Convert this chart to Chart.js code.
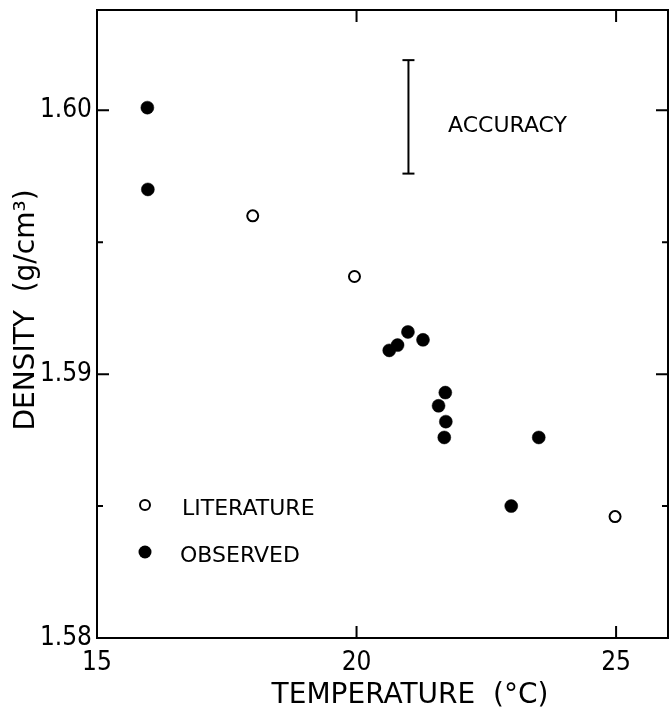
<!DOCTYPE html>
<html>
<head>
<meta charset="utf-8">
<script src="https://cdn.jsdelivr.net/npm/chart.js@4.4.1/dist/chart.umd.min.js"></script>
<style>
  body { margin: 0; background: #fff; }
  canvas { display: block; }
</style>
</head>
<body>
<canvas id="densityChart" width="672" height="715"></canvas>
<script>
// Axis ticks
const temperatureTicks = [15, 20, 25];
const densityTicks = [1.58, 1.585, 1.59, 1.595, 1.60];
const densityLabels = ['1.58', '', '1.59', '', '1.60'];

// Literature values (open circles)
const literatureTemp = [18.0, 19.96, 24.98];
const literatureDensity = [1.5960, 1.5937, 1.5846];

// Observed values (filled circles)
const observedTemp = [15.97, 15.98, 20.99, 21.28, 20.63, 20.79, 21.71, 21.58, 21.72, 21.69, 23.51, 22.98];
const observedDensity = [1.6001, 1.5970, 1.5916, 1.5913, 1.5909, 1.5911, 1.5893, 1.5888, 1.5882, 1.5876, 1.5876, 1.5850];

// Accuracy bar
const accuracyTemp = [21.0, 21.0];
const accuracyDensity = [1.5976, 1.6019];

const toPoints = (xs, ys) => xs.map((x, i) => ({ x: x, y: ys[i] }));

const tickFont = { family: "'DejaVu Sans Condensed', 'Liberation Sans Narrow', sans-serif", size: 26 };
const textFont = "'DejaVu Sans', sans-serif";

// frame, inward ticks, titles and legend
const framePlugin = {
  id: 'frame',
  afterDraw(chart) {
    const ctx = chart.ctx;
    const area = chart.chartArea;
    const xs = chart.scales.x;
    const ys = chart.scales.y;
    ctx.save();
    ctx.strokeStyle = '#000';
    ctx.lineWidth = 2;
    ctx.strokeRect(area.left, area.top, area.right - area.left, area.bottom - area.top);

    ctx.beginPath();
    temperatureTicks.forEach(v => {
      if (v <= xs.min) return;
      const px = xs.getPixelForValue(v);
      ctx.moveTo(px, area.bottom); ctx.lineTo(px, area.bottom - 12);
      ctx.moveTo(px, area.top); ctx.lineTo(px, area.top + 12);
    });
    densityTicks.forEach((v, i) => {
      if (v <= ys.min) return;
      const py = ys.getPixelForValue(v);
      const len = densityLabels[i] ? 12 : 6;
      ctx.moveTo(area.left, py); ctx.lineTo(area.left + len, py);
      ctx.moveTo(area.right, py); ctx.lineTo(area.right - len, py);
    });
    ctx.stroke();

    ctx.fillStyle = '#000';
    ctx.font = '28px ' + textFont;
    ctx.textAlign = 'center';
    ctx.textBaseline = 'alphabetic';
    ctx.fillText('TEMPERATURE  (°C)', 410, 703);

    ctx.save();
    ctx.translate(34, 310);
    ctx.rotate(-Math.PI / 2);
    ctx.fillText('DENSITY  (g/cm³)', 0, 0);
    ctx.restore();

    ctx.font = '22px ' + textFont;
    ctx.textAlign = 'left';
    ctx.fillText('ACCURACY', 448, 132);
    ctx.fillText('LITERATURE', 182, 515);
    ctx.fillText('OBSERVED', 180, 562);

    ctx.beginPath();
    ctx.arc(145, 505, 5, 0, Math.PI * 2);
    ctx.fillStyle = '#fff';
    ctx.fill();
    ctx.stroke();
    ctx.beginPath();
    ctx.arc(145, 552, 6.5, 0, Math.PI * 2);
    ctx.fillStyle = '#000';
    ctx.fill();
    ctx.restore();
  }
};

new Chart(document.getElementById('densityChart').getContext('2d'), {
  type: 'scatter',
  data: {
    datasets: [
      {
        label: 'LITERATURE',
        data: toPoints(literatureTemp, literatureDensity),
        pointRadius: 5.5,
        borderWidth: 2,
        borderColor: '#000',
        backgroundColor: '#fff'
      },
      {
        label: 'OBSERVED',
        data: toPoints(observedTemp, observedDensity),
        pointRadius: 6.5,
        borderWidth: 0.5,
        borderColor: '#000',
        backgroundColor: '#000'
      },
      {
        label: 'ACCURACY',
        data: toPoints(accuracyTemp, accuracyDensity),
        showLine: true,
        borderColor: '#000',
        borderWidth: 2,
        pointStyle: 'line',
        pointRadius: 6,
        pointBorderWidth: 2,
        pointBorderColor: '#000'
      }
    ]
  },
  options: {
    responsive: false,
    animation: false,
    layout: { autoPadding: false, padding: { top: 10, right: 4, left: 0, bottom: 0 } },
    plugins: { legend: { display: false }, tooltip: { enabled: false } },
    scales: {
      x: {
        type: 'linear',
        min: 15,
        max: 26,
        afterBuildTicks: scale => { scale.ticks = temperatureTicks.map(v => ({ value: v })); },
        afterFit: scale => { scale.height = 77; scale.paddingLeft = 0; scale.paddingRight = 0; },
        grid: { display: false, drawTicks: false },
        border: { display: false },
        ticks: { color: '#000', font: tickFont, padding: 10, maxRotation: 0 }
      },
      y: {
        type: 'linear',
        min: 1.58,
        max: 1.6038,
        afterBuildTicks: scale => { scale.ticks = densityTicks.map(v => ({ value: v })); },
        afterFit: scale => { scale.width = 97; scale.paddingTop = 0; scale.paddingBottom = 0; },
        grid: { display: false, drawTicks: false },
        border: { display: false },
        ticks: {
          color: '#000',
          font: tickFont,
          padding: 5,
          callback: (value, index) => densityLabels[index]
        }
      }
    }
  },
  plugins: [framePlugin]
});
</script>
</body>
</html>
